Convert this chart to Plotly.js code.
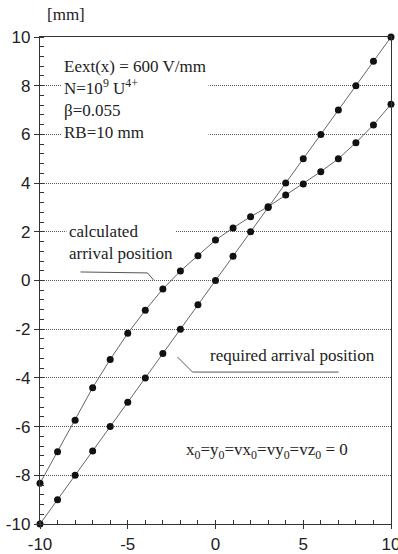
<!DOCTYPE html>
<html>
<head>
<meta charset="utf-8">
<script src="https://cdn.plot.ly/plotly-3.0.1.min.js"></script>
<style>html,body{margin:0;padding:0;background:#fff;}#chart{width:398px;height:554px;}</style>
</head>
<body>
<div id="chart"></div>
<script>
// Data
var xPositions = [-10,-9,-8,-7,-6,-5,-4,-3,-2,-1,0,1,2,3,4,5,6,7,8,9,10];
var requiredArrival = [-10,-9,-8,-7,-6,-5,-4,-3,-2,-1,0,1,2,3,4,5,6,7,8,9,10];
var calculatedArrival = [-8.33,-7.03,-5.74,-4.40,-3.24,-2.17,-1.22,-0.35,0.39,1.02,1.66,2.16,2.62,3.03,3.51,3.96,4.47,5.00,5.66,6.39,7.24];
var xTickVals = [-10,-5,0,5,10];
var yTickVals = [-10,-8,-6,-4,-2,0,2,4,6,8,10];

var serif = "Liberation Serif, Times New Roman, serif";
var sans = "Liberation Sans, Arial, sans-serif";

var lineStyle = {color:'#666', width:1};
var markerStyle = {color:'#111', size:7};

var traces = [
  {x:xPositions, y:requiredArrival, mode:'lines+markers', line:lineStyle, marker:markerStyle, cliponaxis:false, name:'required'},
  {x:xPositions, y:calculatedArrival, mode:'lines+markers', line:lineStyle, marker:markerStyle, cliponaxis:false, name:'calculated'}
];

var layout = {
  width:398, height:554,
  margin:{l:40, r:7, t:37, b:30},
  paper_bgcolor:'#fff', plot_bgcolor:'#fff',
  showlegend:false,
  font:{family:sans, size:17, color:'#222'},
  xaxis:{
    range:[-10,10], tickvals:xTickVals, ticktext:xTickVals.map(String),
    ticks:'outside', ticklen:4, tickcolor:'#333',
    minor:{dtick:1, ticks:'inside', ticklen:4, tickcolor:'#333', showgrid:false},
    showgrid:false, zeroline:false,
    showline:true, linecolor:'#333', linewidth:1.2, mirror:true,
    ticklabeloverflow:'allow',
    tickfont:{family:sans, size:17, color:'#222'}
  },
  yaxis:{
    range:[-10,10], tickvals:yTickVals, ticktext:yTickVals.map(String),
    ticks:'outside', ticklen:5, tickcolor:'#333',
    minor:{dtick:0.4, ticks:'inside', ticklen:4, tickcolor:'#333', showgrid:false},
    showgrid:true, gridcolor:'#555', griddash:'1px,1px', gridwidth:1,
    zeroline:false,
    showline:true, linecolor:'#333', linewidth:1.2, mirror:true,
    tickfont:{family:sans, size:17, color:'#222'}
  },
  annotations:[
    {xref:'paper', yref:'paper', x:0.074, y:1.047, xanchor:'center', yanchor:'middle', showarrow:false,
     text:'[mm]', font:{family:serif, size:17, color:'#222'}},
    {xref:'x', yref:'y', x:-8.8, y:7.43, xanchor:'left', yanchor:'middle', showarrow:false, align:'left',
     bgcolor:'#fff', borderpad:2,
     text:'Eext(x) = 600 V/mm<br>N=10<sup>9</sup> U<sup>4+</sup><br>β=0.055<br>RB=10 mm',
     font:{family:serif, size:17, color:'#222'}},
    {xref:'x', yref:'y', x:-8.5, y:1.58, xanchor:'left', yanchor:'middle', showarrow:false, align:'left',
     bgcolor:'#fff', borderpad:2,
     text:'calculated<br>arrival position',
     font:{family:serif, size:17, color:'#222'}},
    {xref:'x', yref:'y', x:-0.4, y:-3.06, xanchor:'left', yanchor:'middle', showarrow:false, align:'left',
     text:'required arrival position',
     font:{family:serif, size:17, color:'#222'}},
    {xref:'x', yref:'y', x:-1.8, y:-7.0, xanchor:'left', yanchor:'middle', showarrow:false, align:'left',
     text:'x<sub>0</sub>=y<sub>0</sub>=vx<sub>0</sub>=vy<sub>0</sub>=vz<sub>0</sub> = 0',
     font:{family:serif, size:17, color:'#222'}}
  ],
  shapes:[
    {type:'path', xref:'x', yref:'y', path:'M -7.69,0.35 L -3.87,0.31 L -3.53,0.02', line:{color:'#555', width:1}},
    {type:'path', xref:'x', yref:'y', path:'M -2.17,-3.14 L -1.31,-3.76 L 7.01,-3.76', line:{color:'#555', width:1}}
  ]
};

Plotly.newPlot('chart', traces, layout, {displayModeBar:false, staticPlot:true});
</script>
</body>
</html>
